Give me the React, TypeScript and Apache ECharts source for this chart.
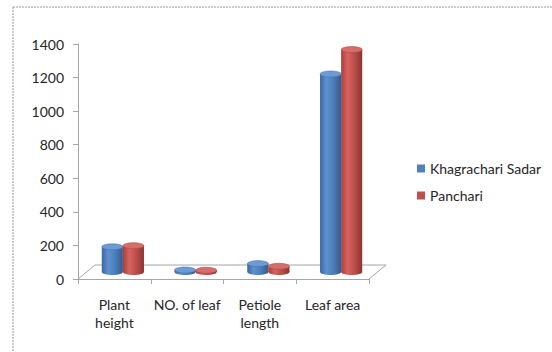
import React, { useEffect, useRef } from "react";
import * as echarts from "echarts";

const categories = ["Plant\nheight", "NO. of leaf", "Petiole\nlength", "Leaf area"];
const seriesNames = ["Khagrachari Sadar", "Panchari"];
const khagrachariSadar = [150, 12, 50, 1180];
const panchari = [157, 10, 34, 1325];
const yMin = 0;
const yMax = 1400;
const yInterval = 200;

const FONT = "Lato, 'Liberation Sans', sans-serif";
const TEXT_COLOR = "#262626";
const DEPTH_X = 17;
const DEPTH_Y = 14;

const palettes = [
  {
    base: "#4F81BD",
    side: ["#3a679f", "#5f90cf", "#4f81bd", "#36598a"],
    top: "#6f9bd4",
    topEdge: "#3f6ea8",
  },
  {
    base: "#C0504D",
    side: ["#a53f3c", "#d8625f", "#c0504d", "#8c3431"],
    top: "#d46e6b",
    topEdge: "#a9413e",
  },
];

function cylinderRenderer(sideIdx: number) {
  const pal = palettes[sideIdx];
  return (params: any, api: any) => {
    const ci = api.value(0);
    const v = api.value(1);
    const base = api.coord([ci, 0]);
    const top = api.coord([ci, v]);
    const band = api.size([1, 0])[0];
    const w = band * 0.29;
    const cx = base[0] + DEPTH_X / 2 + (sideIdx === 0 ? -w / 2 : w / 2);
    const by = base[1] - DEPTH_Y / 2;
    const ty = top[1] - DEPTH_Y / 2;
    const rx = w / 2;
    const ry = 3;
    const grad = new echarts.graphic.LinearGradient(0, 0, 1, 0, [
      { offset: 0, color: pal.side[0] },
      { offset: 0.3, color: pal.side[1] },
      { offset: 0.6, color: pal.side[2] },
      { offset: 1, color: pal.side[3] },
    ]);
    return {
      type: "group",
      children: [
        {
          type: "ellipse",
          shape: { cx, cy: by, rx, ry },
          style: { fill: grad },
        },
        {
          type: "rect",
          shape: { x: cx - rx, y: ty, width: w, height: Math.max(0, by - ty) },
          style: { fill: grad },
        },
        {
          type: "ellipse",
          shape: { cx, cy: ty, rx, ry },
          style: { fill: pal.top, stroke: pal.topEdge, lineWidth: 0.5 },
        },
      ],
    };
  };
}

function floorRenderer(params: any, api: any) {
  const first = api.coord([0, 0]);
  const last = api.coord([categories.length - 1, 0]);
  const band = api.size([1, 0])[0];
  const x0 = first[0] - band / 2;
  const x1 = last[0] + band / 2;
  const y0 = first[1];
  return {
    type: "polyline",
    shape: {
      points: [
        [x0, y0],
        [x0 + DEPTH_X, y0 - DEPTH_Y],
        [x1 + DEPTH_X, y0 - DEPTH_Y],
        [x1, y0],
      ],
    },
    style: { fill: "none", stroke: "#a6a6a6", lineWidth: 1 },
  };
}

export default function App() {
  const ref = useRef<HTMLDivElement>(null);
  useEffect(() => {
    if (!ref.current) return;
    const chart = echarts.init(ref.current, undefined, { renderer: "svg" });
    chart.setOption({
      animation: false,
      backgroundColor: "#ffffff",
      textStyle: { fontFamily: FONT },
      grid: { left: 78, right: 183, top: 44, bottom: 73, containLabel: false },
      legend: {
        data: seriesNames,
        orient: "vertical",
        left: 412,
        top: 155,
        icon: "rect",
        itemWidth: 8,
        itemHeight: 8,
        itemGap: 10,
        textStyle: { fontSize: 14, color: TEXT_COLOR, fontFamily: FONT, lineHeight: 17 },
      },
      xAxis: {
        type: "category",
        data: categories,
        axisLine: { lineStyle: { color: "#a6a6a6", width: 1 } },
        axisTick: { show: true, length: 5, lineStyle: { color: "#a6a6a6" } },
        axisLabel: {
          margin: 16,
          fontSize: 14,
          lineHeight: 18,
          color: TEXT_COLOR,
          fontFamily: FONT,
          interval: 0,
        },
        splitLine: { show: false },
      },
      yAxis: {
        type: "value",
        min: yMin,
        max: yMax,
        interval: yInterval,
        axisLine: { show: true, lineStyle: { color: "#a6a6a6", width: 1 } },
        axisTick: { show: true, length: 5, lineStyle: { color: "#a6a6a6" } },
        axisLabel: {
          margin: 14,
          fontSize: 14,
          color: TEXT_COLOR,
          fontFamily: FONT,
          formatter: (v: number) => String(v),
        },
        splitLine: { show: false },
      },
      graphic: [
        {
          type: "line",
          shape: { x1: 13, y1: 7, x2: 552, y2: 7 },
          style: { stroke: "#9a9a9a", lineWidth: 1, lineDash: [2, 1] },
        },
        {
          type: "line",
          shape: { x1: 13, y1: 7, x2: 13, y2: 352 },
          style: { stroke: "#9a9a9a", lineWidth: 1, lineDash: [2, 1] },
        },
      ],
      series: [
        {
          type: "custom",
          name: "floor",
          renderItem: floorRenderer,
          data: [[0, 0]],
          encode: { x: 0, y: 1 },
          silent: true,
          z: 1,
        },
        {
          type: "custom",
          name: seriesNames[0],
          itemStyle: { color: palettes[0].base },
          renderItem: cylinderRenderer(0),
          data: khagrachariSadar.map((v, i) => [i, v]),
          encode: { x: 0, y: 1 },
          z: 3,
        },
        {
          type: "custom",
          name: seriesNames[1],
          itemStyle: { color: palettes[1].base },
          renderItem: cylinderRenderer(1),
          data: panchari.map((v, i) => [i, v]),
          encode: { x: 0, y: 1 },
          z: 3,
        },
      ],
    });
    return () => chart.dispose();
  }, []);
  return (
    <div
      ref={ref}
      style={{ position: "fixed", left: 0, top: 0, width: 552, height: 352 }}
    />
  );
}
